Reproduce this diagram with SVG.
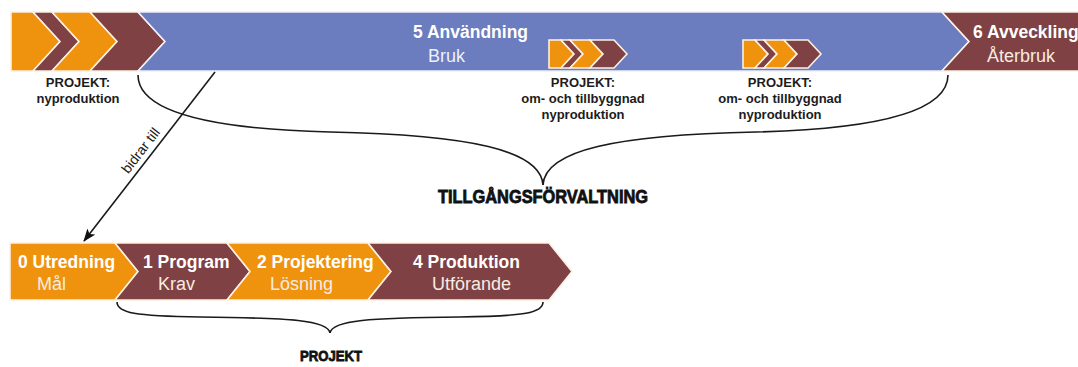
<svg xmlns="http://www.w3.org/2000/svg" width="1078" height="367" viewBox="0 0 1078 367">
<defs>
<style>
.or{fill:#ef930f;stroke:#fdf1e2;stroke-width:1.6;stroke-linejoin:miter}
.br{fill:#7f4143;stroke:#fdf1e2;stroke-width:1.6;stroke-linejoin:miter}
.bl{fill:#6b7cbf;stroke:#eef0fa;stroke-width:1.6;stroke-linejoin:miter}
.t{font-family:"Liberation Sans",Arial,sans-serif;font-size:17.5px;font-weight:bold;fill:#ffffff}
.s{font-family:"Liberation Sans",Arial,sans-serif;font-size:18px;fill:#f6ece2}
.lb{font-family:"Liberation Sans",Arial,sans-serif;font-size:13px;font-weight:bold;fill:#1c1c1c;text-anchor:middle}
.big{font-family:"Liberation Sans",Arial,sans-serif;font-weight:bold;fill:#111;text-anchor:middle;stroke:#111;stroke-width:0.8}
.ln{fill:none;stroke:#1a1a1a;stroke-width:1.6}
</style>
<marker id="ah" viewBox="0 0 13 10" refX="12" refY="5" markerWidth="13" markerHeight="10" markerUnits="userSpaceOnUse" orient="auto">
<path d="M0,0 L13,5 L0,10 L3,5 Z" fill="#111"/>
</marker>
<g id="mini">
<path class="or" d="M0,40 L12,40 L25,54 L12,68 L0,68 Z"/>
<path class="br" d="M12,40 L21,40 L34,54 L21,68 L12,68 L25,54 Z"/>
<path class="or" d="M21,40 L41,40 L54,54 L41,68 L21,68 L34,54 Z"/>
<path class="br" d="M41,40 L65,40 L78,54 L65,68 L41,68 L54,54 Z"/>
</g>
</defs>
<rect width="1078" height="367" fill="#ffffff"/>

<g id="lifecycle-start">
<path class="or" d="M11,12 L33,12 L60,41.5 L33,71 L11,71 Z"/>
<path class="br" d="M33,12 L52,12 L79,41.5 L52,71 L33,71 L60,41.5 Z"/>
<path class="or" d="M52,12 L90,12 L117,41.5 L90,71 L52,71 L79,41.5 Z"/>
<path class="br" d="M90,12 L138,12 L165,41.5 L138,71 L90,71 L117,41.5 Z"/>
</g>

<g id="anvandning">
<path class="bl" d="M138,12 L942,12 L969,41.5 L942,71 L138,71 L165,41.5 Z"/>
<text class="t" x="413" y="37.5">5 Användning</text>
<text class="s" x="428" y="62" style="fill:#eef0f8">Bruk</text>
</g>

<g id="avveckling">
<path class="br" d="M942,12 L1080,12 L1080,71 L942,71 L969,41.5 Z"/>
<text class="t" x="973" y="37.5">6 Avveckling</text>
<text class="s" x="987" y="62">Återbruk</text>
</g>

<g id="projekt-mini-1">
<use href="#mini" x="549"/>
</g>
<g id="projekt-mini-2">
<use href="#mini" x="743"/>
</g>

<g id="label-nyproduktion">
<text class="lb" x="78" y="87">PROJEKT:</text>
<text class="lb" x="78" y="102.5">nyproduktion</text>
</g>
<g id="label-om-1">
<text class="lb" x="583" y="87">PROJEKT:</text>
<text class="lb" x="583" y="103">om- och tillbyggnad</text>
<text class="lb" x="583" y="119">nyproduktion</text>
</g>
<g id="label-om-2">
<text class="lb" x="780" y="87">PROJEKT:</text>
<text class="lb" x="780" y="103">om- och tillbyggnad</text>
<text class="lb" x="780" y="119">nyproduktion</text>
</g>

<g id="utredning">
<path class="or" d="M10,243 L115,243 L138,271.5 L115,300 L10,300 Z"/>
<text class="t" x="18" y="268">0 Utredning</text>
<text class="s" x="37" y="290">Mål</text>
</g>
<g id="program">
<path class="br" d="M115,243 L227,243 L250,271.5 L227,300 L115,300 L138,271.5 Z"/>
<text class="t" x="143" y="268">1 Program</text>
<text class="s" x="158" y="290">Krav</text>
</g>
<g id="projektering">
<path class="or" d="M227,243 L368,243 L391,271.5 L368,300 L227,300 L250,271.5 Z"/>
<text class="t" x="257" y="268">2 Projektering</text>
<text class="s" x="270" y="290">Lösning</text>
</g>
<g id="produktion">
<path class="br" d="M368,243 L549,243 L572,271.5 L549,300 L368,300 L391,271.5 Z"/>
<text class="t" x="413" y="268">4 Produktion</text>
<text class="s" x="432" y="290">Utförande</text>
</g>

<g id="connectors">
<path class="ln" d="M138,75 C138,112 210,129 330,132 C470,135 541,150 543,185"/>
<path class="ln" d="M948,75 C948,112 876,129 756,132 C616,135 545,150 543,185"/>
<path class="ln" d="M117,302 C117,313 135,316 200,317 C290,318 328,320 330,333"/>
<path class="ln" d="M543,302 C543,313 525,316 460,317 C370,318 332,320 330,333"/>
<line class="ln" x1="215" y1="72" x2="84" y2="241" marker-end="url(#ah)"/>
<text x="144.5" y="153.5" transform="rotate(-52.2 144.5 153.5)" font-family="Liberation Sans, Arial, sans-serif" font-size="14" fill="#1a1a1a" text-anchor="middle">bidrar till</text>
</g>

<g id="tillgangsforvaltning">
<text class="big" x="543" y="203" font-size="17.5" textLength="210" lengthAdjust="spacingAndGlyphs">TILLGÅNGSFÖRVALTNING</text>
</g>
<g id="projekt">
<text class="big" x="331" y="361" font-size="15" textLength="62" lengthAdjust="spacingAndGlyphs">PROJEKT</text>
</g>
</svg>
